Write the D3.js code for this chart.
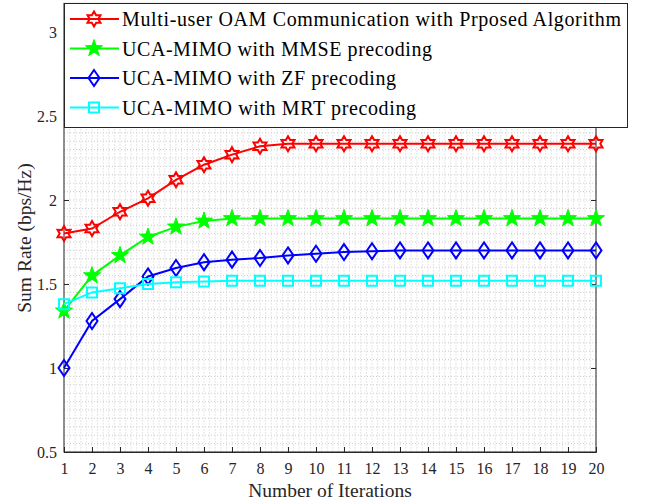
<!DOCTYPE html>
<html>
<head>
<meta charset="utf-8">
<script src="https://cdn.jsdelivr.net/npm/d3@7"></script>
<style>
  html, body { margin: 0; padding: 0; background: #fff; }
  svg { display: block; }
  svg text { font-family: "Liberation Serif", "Times New Roman", Times, serif !important; }
</style>
</head>
<body>
<svg id="chart" width="649" height="504"></svg>
<script>
// Iteration index and sum-rate curves (bps/Hz)
const iterations = d3.range(1, 21);
const proposed = [1.80, 1.83, 1.93, 2.01, 2.12, 2.21, 2.27, 2.32, 2.335, 2.335, 2.335, 2.335, 2.335, 2.335, 2.335, 2.335, 2.335, 2.335, 2.335, 2.335];
const mmse     = [1.34, 1.55, 1.67, 1.78, 1.84, 1.875, 1.89, 1.89, 1.89, 1.89, 1.89, 1.89, 1.89, 1.89, 1.89, 1.89, 1.89, 1.89, 1.89, 1.89];
const zf       = [1.00, 1.28, 1.41, 1.545, 1.595, 1.63, 1.645, 1.655, 1.67, 1.68, 1.69, 1.695, 1.70, 1.70, 1.70, 1.70, 1.70, 1.70, 1.70, 1.70];
const mrt      = [1.38, 1.45, 1.475, 1.50, 1.51, 1.515, 1.52, 1.52, 1.52, 1.52, 1.52, 1.52, 1.52, 1.52, 1.52, 1.52, 1.52, 1.52, 1.52, 1.52];

const seriesNames = [
  "Multi-user OAM Communication with Prposed Algorithm",
  "UCA-MIMO with MMSE precoding",
  "UCA-MIMO with ZF precoding",
  "UCA-MIMO with MRT precoding"
];
const seriesColors = ["#ff0000", "#00ff00", "#0000ff", "#00ffff"];
const seriesMarkers = ["hexagram", "pentagram", "diamond", "square"];
const seriesValues = [proposed, mmse, zf, mrt];

const xTicks = d3.range(1, 21);
const yTicks = [0.5, 1, 1.5, 2, 2.5, 3];

const serif = "'Liberation Serif', 'Times New Roman', Times, serif";
const svg = d3.select("#chart");
const plotLeft = 64, plotRight = 596, plotBottom = 452;

const x = d3.scaleLinear().domain([1, 20]).range([plotLeft, plotRight]);
const y = d3.scaleLinear().domain([0.5, 3]).range([plotBottom, 32]);
const yTopVal = 3.17;
const plotTop = y(yTopVal);

const axisColor = "#262626";
const g = svg.append("g");

// Minor grid
const minorX = d3.range(1, 20.001, 0.2).map(v => +v.toFixed(2));
const minorY = d3.range(0.5, yTopVal, 0.05).map(v => +v.toFixed(2));
g.append("g").selectAll("line").data(minorX).join("line")
  .attr("x1", d => x(d)).attr("x2", d => x(d))
  .attr("y1", plotTop).attr("y2", plotBottom)
  .attr("stroke", "#cccccc").attr("stroke-width", 1).attr("stroke-dasharray", "1,2");
g.append("g").selectAll("line").data(minorY).join("line")
  .attr("x1", plotLeft).attr("x2", plotRight)
  .attr("y1", d => y(d)).attr("y2", d => y(d))
  .attr("stroke", "#cccccc").attr("stroke-width", 1).attr("stroke-dasharray", "1,2");

// Axes box
g.append("rect").attr("x", plotLeft).attr("y", plotTop)
  .attr("width", plotRight - plotLeft).attr("height", plotBottom - plotTop)
  .attr("fill", "none").attr("stroke", axisColor).attr("stroke-width", 1);

// Bottom axis with inward ticks
const xAxis = d3.axisBottom(x).tickValues(xTicks).tickSize(-5).tickPadding(11).tickFormat(d3.format("d"));
const xg = g.append("g").attr("transform", `translate(0,${plotBottom})`).call(xAxis)
  .attr("font-family", serif);
xg.select(".domain").attr("stroke", axisColor);
xg.selectAll(".tick line").attr("stroke", axisColor);
xg.selectAll("text").attr("font-size", 16).attr("fill", axisColor);

// Left axis
const yAxis = d3.axisLeft(y).tickValues(yTicks).tickSize(-5).tickPadding(7).tickFormat(d3.format("~g"));
const yg = g.append("g").attr("transform", `translate(${plotLeft},0)`).call(yAxis)
  .attr("font-family", serif);
yg.select(".domain").remove();
yg.selectAll(".tick line").attr("stroke", axisColor);
yg.selectAll("text").attr("font-size", 16).attr("fill", axisColor);

// Right side ticks
const yr = g.append("g").attr("transform", `translate(${plotRight},0)`)
  .call(d3.axisRight(y).tickValues(yTicks).tickSize(-5).tickFormat(""));
yr.select(".domain").remove();
yr.selectAll(".tick line").attr("stroke", axisColor);

// Axis titles
svg.append("text").attr("x", (plotLeft + plotRight) / 2).attr("y", 497)
  .attr("text-anchor", "middle").attr("font-size", 19.5).attr("font-family", serif)
  .attr("fill", axisColor).text("Number of Iterations");
svg.append("text").attr("transform", `translate(31,${y(1.75) - 4}) rotate(-90)`)
  .attr("text-anchor", "middle").attr("font-size", 19.5).attr("font-family", serif)
  .attr("fill", axisColor).text("Sum Rate (bps/Hz)");

// Marker shapes
function markerPath(type, cx, cy) {
  const p = d3.path();
  if (type === "diamond") {
    p.moveTo(cx, cy - 8); p.lineTo(cx + 5.5, cy); p.lineTo(cx, cy + 8); p.lineTo(cx - 5.5, cy); p.closePath();
  } else if (type === "square") {
    p.rect(cx - 5, cy - 5, 10, 10);
  } else if (type === "pentagram") {
    const R = 9, r = 3.6;
    for (let i = 0; i < 10; i++) {
      const a = -Math.PI / 2 + i * Math.PI / 5;
      const rr = i % 2 === 0 ? R : r;
      const px = cx + rr * Math.cos(a), py = cy + rr * Math.sin(a);
      i === 0 ? p.moveTo(px, py) : p.lineTo(px, py);
    }
    p.closePath();
  } else if (type === "hexagram") {
    const R = 7.5, r = 4.3;
    for (let i = 0; i < 12; i++) {
      const a = -Math.PI / 2 + i * Math.PI / 6;
      const rr = i % 2 === 0 ? R : r;
      const px = cx + rr * Math.cos(a), py = cy + rr * Math.sin(a);
      i === 0 ? p.moveTo(px, py) : p.lineTo(px, py);
    }
    p.closePath();
  }
  return p.toString();
}
function drawMarker(sel, type, color, cx, cy) {
  const filled = type === "pentagram";
  sel.append("path").attr("d", markerPath(type, cx, cy))
    .attr("fill", filled ? color : "none")
    .attr("stroke", color).attr("stroke-width", type === "pentagram" ? 1 : 2)
    .attr("stroke-linejoin", "miter");
}

// Curves
const line = d3.line().x((d, i) => x(iterations[i])).y(d => y(d));
seriesValues.forEach((vals, k) => {
  const sg = g.append("g");
  sg.append("path").datum(vals).attr("d", line)
    .attr("fill", "none").attr("stroke", seriesColors[k]).attr("stroke-width", 2);
  vals.forEach((v, i) => drawMarker(sg, seriesMarkers[k], seriesColors[k], x(iterations[i]), y(v)));
});

// Legend
const lg = svg.append("g");
lg.append("rect").attr("x", 64.5).attr("y", 3.5).attr("width", 563).attr("height", 124)
  .attr("fill", "#fff").attr("stroke", axisColor).attr("stroke-width", 1);
const rowY = [19, 48.5, 78, 107.5];
const labelWidths = [499, 310, 274, 294];
seriesNames.forEach((name, k) => {
  lg.append("line").attr("x1", 70).attr("x2", 119).attr("y1", rowY[k]).attr("y2", rowY[k])
    .attr("stroke", seriesColors[k]).attr("stroke-width", 2);
  drawMarker(lg, seriesMarkers[k], seriesColors[k], 94, rowY[k]);
  lg.append("text").attr("x", 122).attr("y", rowY[k] + 7).attr("font-size", 20)
    .attr("font-family", serif).attr("fill", "#000")
    .attr("textLength", labelWidths[k]).attr("lengthAdjust", "spacing")
    .text(name);
});
</script>
</body>
</html>
